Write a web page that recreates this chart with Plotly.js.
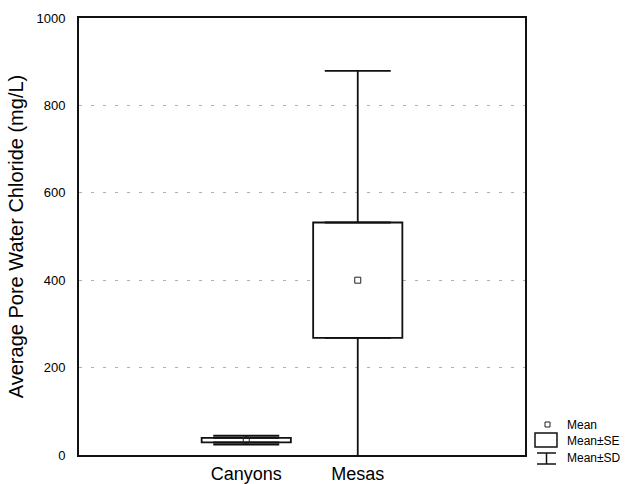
<!DOCTYPE html>
<html>
<head>
<meta charset="utf-8">
<script src="https://cdn.plot.ly/plotly-3.0.1.min.js"></script>
<style>html,body{margin:0;padding:0;background:#fff;}#chart{width:631px;height:484px;}</style>
</head>
<body>
<div id="chart"></div>
<script>
// ---- data ----
const categories = ['Canyons', 'Mesas'];
const means = [34, 400];
const se = [5, 132];
const sd = [10, 479];
const yTicks = [0, 200, 400, 600, 800, 1000];
const legendLabels = ['Mean', 'Mean±SE', 'Mean±SD'];

const seLow = means.map((m, i) => m - se[i]);
const seHigh = means.map((m, i) => m + se[i]);
const seSpan = se.map(s => 2 * s);
const sdExtra = sd.map((s, i) => s - se[i]);
const zeros = means.map(() => 0);

const traces = [
  { // Mean ± SE box
    type: 'bar', x: categories, y: seSpan, base: seLow, width: 0.8,
    marker: {color: '#ffffff', line: {color: '#111', width: 1.8}},
    showlegend: false, hoverinfo: 'skip'
  },
  { // upper whisker (SE top to SD top)
    type: 'scatter', mode: 'markers', x: categories, y: seHigh,
    marker: {size: 1, opacity: 0},
    error_y: {type: 'data', symmetric: false, array: sdExtra, arrayminus: zeros,
              width: 33, thickness: 1.8, color: '#111'},
    showlegend: false, hoverinfo: 'skip'
  },
  { // lower whisker (SE bottom to SD bottom)
    type: 'scatter', mode: 'markers', x: categories, y: seLow,
    marker: {size: 1, opacity: 0},
    error_y: {type: 'data', symmetric: false, array: zeros, arrayminus: sdExtra,
              width: 33, thickness: 1.8, color: '#111'},
    showlegend: false, hoverinfo: 'skip'
  },
  { // mean marker
    type: 'scatter', mode: 'markers', x: categories, y: means,
    marker: {symbol: 'square-open', size: 6, color: '#222', line: {width: 1, color: '#222'}},
    showlegend: false, hoverinfo: 'skip'
  }
];

// custom legend (paper coordinates: plot area x 79..525, y 18..455 px)
const L = 79, W = 446, B = 455, H = 437;
const px = v => (v - L) / W;
const py = v => (B - v) / H;
const lineS = {color: '#111', width: 1.5};
const shapes = [
  {type: 'rect', xref: 'paper', yref: 'paper', x0: px(545), x1: px(550), y0: py(427), y1: py(422), line: {color: '#222', width: 1}},
  {type: 'rect', xref: 'paper', yref: 'paper', x0: px(535), x1: px(557), y0: py(447), y1: py(433), line: lineS, fillcolor: '#fff'},
  {type: 'line', xref: 'paper', yref: 'paper', x0: px(546.5), x1: px(546.5), y0: py(453), y1: py(464), line: lineS},
  {type: 'line', xref: 'paper', yref: 'paper', x0: px(537), x1: px(556), y0: py(453), y1: py(453), line: lineS},
  {type: 'line', xref: 'paper', yref: 'paper', x0: px(537), x1: px(556), y0: py(464), y1: py(464), line: lineS}
];
const legendY = [425, 441, 458];
const annotations = legendLabels.map((t, i) => ({
  text: t, xref: 'paper', yref: 'paper', x: px(565), y: py(legendY[i]),
  xanchor: 'left', yanchor: 'middle', showarrow: false,
  font: {family: 'Liberation Sans, Arial, sans-serif', size: 12, color: '#000'}
}));

const layout = {
  width: 631, height: 484,
  margin: {l: 79, r: 106, t: 18, b: 29},
  paper_bgcolor: '#fff', plot_bgcolor: '#fff',
  showlegend: false,
  font: {family: 'Liberation Sans, Arial, sans-serif', color: '#000'},
  xaxis: {
    type: 'category', range: [-1.5, 2.5], showgrid: false, zeroline: false,
    showline: true, mirror: true, linecolor: '#111', linewidth: 2,
    ticks: '', tickfont: {size: 18, color: '#000'}, ticklabelstandoff: 1, fixedrange: true
  },
  yaxis: {
    range: [0, 1000], tickvals: yTicks, ticktext: yTicks.map(String),
    showgrid: true, gridcolor: '#b0b0b0', griddash: '3px,9px', gridwidth: 1,
    zeroline: false, showline: true, mirror: true, linecolor: '#111', linewidth: 2,
    ticks: '', tickfont: {size: 13, color: '#000'}, ticklabelstandoff: 9,
    title: {text: 'Average Pore Water Chloride (mg/L)', font: {size: 20, color: '#000'}, standoff: 7},
    fixedrange: true
  },
  shapes: shapes,
  annotations: annotations
};

Plotly.newPlot('chart', traces, layout, {displayModeBar: false, staticPlot: true});
</script>
</body>
</html>
